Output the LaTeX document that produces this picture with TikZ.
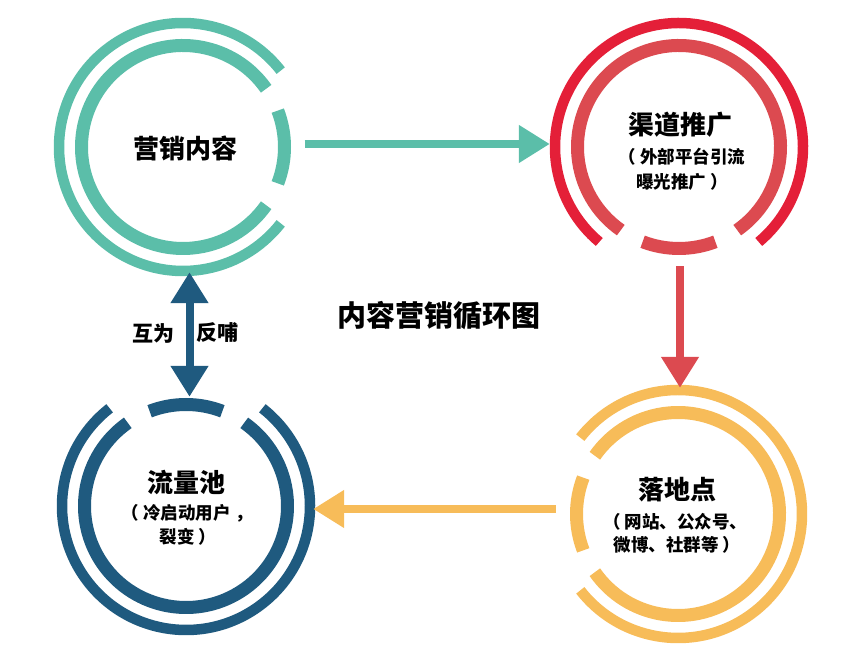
\documentclass[tikz,border=0pt]{standalone}
\usepackage{fontspec}
\setmainfont{Noto Sans CJK SC}
\usetikzlibrary{arrows.meta,calc}
\definecolor{cteal}{HTML}{5BBEA9}
\definecolor{credo}{HTML}{E41F38}
\definecolor{credi}{HTML}{DC4A50}
\definecolor{cblue}{HTML}{1F5A7F}
\definecolor{cyell}{HTML}{F7BC59}
\newcommand\lpar{\kern-0.22em（\kern0.22em}
\newcommand\rpar{\kern0.22em）\kern-0.22em}
\newcommand\cjkcomma{\kern0.25em，\kern-0.25em}
\begin{document}
\begin{tikzpicture}[x=1pt,y=1pt,
  hub/.style={circle,minimum size=259pt,inner sep=0pt,draw=none},
  outerring/.style={line width=10.5pt},
  innerring/.style={line width=13pt},
  arr/.style={line width=8pt,-{Triangle[length=31pt,width=36pt]}},
  darr/.style={line width=8pt,{Triangle[length=31pt,width=36pt]}-{Triangle[length=31pt,width=36pt]}},
  bigtxt/.style={font=\bfseries\fontsize{26}{30}\selectfont,inner sep=0pt},
  smalltxt/.style={font=\bfseries\fontsize{17.5}{21}\selectfont,inner sep=0pt},
  midtxt/.style={font=\bfseries\fontsize{21}{25}\selectfont,inner sep=0pt},
  titletxt/.style={font=\bfseries\fontsize{29}{33}\selectfont,inner sep=0pt}]
\useasboundingbox (0,0) rectangle (858,660);
% hubs
\node[hub] (T) at (183,513) {};
\node[hub] (R) at (679,513) {};
\node[hub] (B) at (186,154) {};
\node[hub] (Y) at (678,146) {};
% teal rings (gap to the right)
\draw[outerring,cteal] ($(T)+(38:124)$) arc[start angle=38,end angle=322,radius=124];
\draw[innerring,cteal] ($(T)+(35:101.5)$) arc[start angle=35,end angle=325,radius=101.5];
\draw[innerring,cteal] ($(T)+(-21:101.5)$) arc[start angle=-21,end angle=21,radius=101.5];
% red rings (gap at the bottom)
\draw[outerring,credo] ($(R)+(-50:124)$) arc[start angle=-50,end angle=230,radius=124];
\draw[innerring,credi] ($(R)+(-55:101.5)$) arc[start angle=-55,end angle=235,radius=101.5];
\draw[innerring,credi] ($(R)+(249:101.5)$) arc[start angle=249,end angle=291,radius=101.5];
% blue rings (gap at the top)
\draw[outerring,cblue] ($(B)+(128:124)$) arc[start angle=128,end angle=412,radius=124];
\draw[innerring,cblue] ($(B)+(125:101.5)$) arc[start angle=125,end angle=415,radius=101.5];
\draw[innerring,cblue] ($(B)+(69:101.5)$) arc[start angle=69,end angle=111,radius=101.5];
% yellow rings (gap to the left)
\draw[outerring,cyell] ($(Y)+(-142:124)$) arc[start angle=-142,end angle=142,radius=124];
\draw[innerring,cyell] ($(Y)+(-145:101.5)$) arc[start angle=-145,end angle=145,radius=101.5];
\draw[innerring,cyell] ($(Y)+(159:101.5)$) arc[start angle=159,end angle=201,radius=101.5];
% texts
\node[bigtxt] (tT) at (185,512) {营销内容};
\node[bigtxt] (tR) at (680,535) {渠道推广};
\node[smalltxt] (sR1) at (684,503) {\lpar 外部平台引流};
\node[smalltxt] (sR2) at (680,478) {曝光推广\rpar};
\node[bigtxt] (tB) at (186,178) {流量池};
\node[smalltxt] (sB1) at (187,147) {\lpar 冷启动用户\cjkcomma};
\node[smalltxt] (sB2) at (186,123) {裂变\rpar};
\node[bigtxt] (tY) at (677,170) {落地点};
\node[smalltxt] (sY1) at (677,138) {\lpar 网站、公众号、};
\node[smalltxt] (sY2) at (675,115) {微博、社群等\rpar};
\node[titletxt] (title) at (439,344) {内容营销循环图};
\node[midtxt] (l1) at (153,327) {互为};
\node[midtxt] (l2) at (217,327) {反哺};
% connectors
\coordinate (a1) at ($(T.east)+(-8,3)$);
\coordinate (a2) at ($(R.west)+(0.5,3)$);
\draw[arr,cteal] (a1) -- (a2);
\coordinate (b1) at ($(R.south)+(1,10.5)$);
\coordinate (b2) at ($(Y.north)+(2,-3.5)$);
\draw[arr,credi] (b1) -- (b2);
\coordinate (c1) at ($(Y.west)+(7.5,5)$);
\coordinate (c2) at ($(B.east)+(-2.5,-3)$);
\draw[arr,cyell] (c1) -- (c2);
\coordinate (d1) at ($(T.south)+(6.5,4.5)$);
\coordinate (d2) at ($(B.north)+(3.5,-20.5)$);
\draw[darr,cblue] (d1) -- (d2);
\end{tikzpicture}
\end{document}
